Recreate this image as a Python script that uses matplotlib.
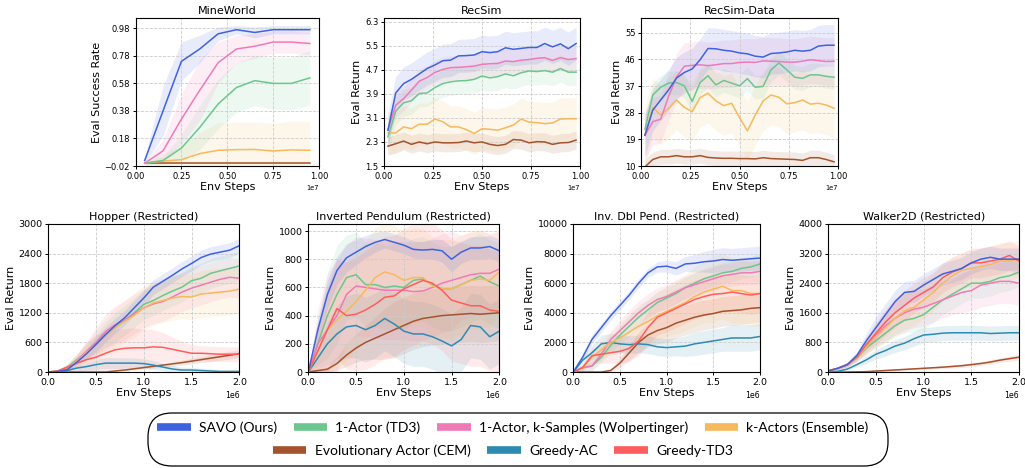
import numpy as np
import matplotlib
matplotlib.use("Agg")
import matplotlib.pyplot as plt
from matplotlib.lines import Line2D
from matplotlib.patches import FancyBboxPatch

names = ["SAVO (Ours)", "1-Actor (TD3)", "1-Actor, k-Samples (Wolpertinger)", "k-Actors (Ensemble)",
         "Evolutionary Actor (CEM)", "Greedy-AC", "Greedy-TD3"]
colors = ["#3f62e0", "#6cc68e", "#f07ab8", "#f6b95c", "#a5532c", "#2d8bb3", "#ff5d5d"]

# ---------------- MineWorld (steps in millions) ----------------
mw_steps = [0.5, 1.5, 2.5, 3.5, 4.5, 5.5, 6.5, 7.5, 8.5, 9.5]
mw_savo = [0.02, 0.38, 0.74, 0.83, 0.94, 0.97, 0.95, 0.97, 0.97, 0.97]
mw_wolp = [0.0, 0.09, 0.32, 0.53, 0.73, 0.83, 0.85, 0.88, 0.88, 0.87]
mw_td3 = [0.0, 0.02, 0.11, 0.26, 0.43, 0.55, 0.60, 0.58, 0.58, 0.62]
mw_ens = [0.0, 0.016, 0.026, 0.07, 0.094, 0.099, 0.10, 0.089, 0.097, 0.094]
mw_cem = [0.0, 0.0, 0.0, 0.0, 0.0, 0.0, 0.0, 0.0, 0.0, 0.0]
mw_savo_sd = [0.02, 0.18, 0.14, 0.10, 0.05, 0.03, 0.04, 0.03, 0.03, 0.03]
mw_wolp_sd = [0.01, 0.08, 0.18, 0.22, 0.15, 0.10, 0.09, 0.08, 0.08, 0.08]
mw_td3_sd = [0.01, 0.03, 0.10, 0.16, 0.18, 0.18, 0.18, 0.19, 0.19, 0.20]
mw_ens_sd = [0.01, 0.05, 0.10, 0.15, 0.20, 0.20, 0.20, 0.20, 0.21, 0.21]
mw_cem_sd = 0.004

# ---------------- RecSim ----------------
rs_steps = [0.2, 0.6, 1.0, 1.4, 1.8, 2.2, 2.6, 3.0, 3.4, 3.8, 4.2, 4.6, 5.0, 5.4, 5.8, 6.2, 6.6,
            7.0, 7.4, 7.8, 8.2, 8.6, 9.0, 9.4, 9.8]
rs_savo = [2.69, 3.93, 4.24, 4.38, 4.56, 4.74, 4.86, 5.0, 5.02, 5.16, 5.17, 5.19, 5.3, 5.27, 5.3,
           5.43, 5.38, 5.41, 5.44, 5.44, 5.57, 5.46, 5.56, 5.4, 5.57]
rs_wolp = [2.69, 3.52, 3.74, 4.02, 4.32, 4.44, 4.61, 4.71, 4.77, 4.78, 4.8, 4.82, 4.88, 4.9, 4.91,
           4.99, 4.97, 5.02, 5.04, 5.08, 5.1, 5.01, 5.1, 5.04, 5.07]
rs_td3 = [2.47, 3.32, 3.6, 3.67, 3.91, 3.93, 4.11, 4.24, 4.3, 4.33, 4.34, 4.38, 4.49, 4.43, 4.47,
          4.56, 4.5, 4.6, 4.66, 4.64, 4.67, 4.62, 4.74, 4.62, 4.62]
rs_ens = [2.6, 2.6, 2.8, 2.74, 2.89, 2.89, 3.06, 2.97, 2.8, 2.8, 2.71, 2.58, 2.74, 2.72, 2.69,
          2.77, 2.86, 3.06, 2.96, 2.94, 2.91, 2.93, 3.06, 3.07, 3.07]
rs_cem = [2.16, 2.24, 2.33, 2.22, 2.3, 2.24, 2.3, 2.27, 2.27, 2.28, 2.33, 2.27, 2.3, 2.22, 2.18,
          2.22, 2.38, 2.36, 2.27, 2.31, 2.3, 2.22, 2.27, 2.28, 2.36]
rs_sd = [0.55, 0.45, 0.4, 0.7, 0.3]

# ---------------- RecSim-Data ----------------
rd_savo = [20.4, 28.9, 32.3, 35.7, 39.7, 41.6, 42.8, 45.9, 49.7, 49.6, 49.1, 48.8, 48.2, 47.9, 47.1,
           46.8, 48.0, 48.2, 48.5, 49.1, 48.8, 49.1, 50.5, 50.8, 50.8]
rd_wolp = [20.4, 25.0, 25.8, 33.5, 40.0, 43.7, 44.0, 44.2, 43.9, 44.2, 44.6, 44.6, 45.0, 45.1, 45.0,
           45.5, 45.4, 45.3, 45.1, 45.1, 45.4, 45.9, 45.6, 45.3, 45.4]
rd_td3 = [22.4, 34.0, 36.6, 38.0, 38.2, 37.1, 31.8, 38.2, 40.5, 37.4, 38.9, 38.0, 37.1, 39.5, 36.6,
          36.9, 42.5, 44.8, 42.5, 40.0, 39.6, 40.8, 40.8, 40.3, 40.0]
rd_ens = [20.4, 29.8, 27.2, 29.5, 32.3, 29.8, 28.4, 33.1, 34.6, 32.0, 30.4, 31.2, 26.4, 21.9, 27.2,
          32.0, 34.0, 33.2, 31.0, 31.4, 32.3, 30.9, 31.2, 30.6, 29.5]
rd_cem = [9.7, 12.2, 13.1, 13.1, 13.5, 13.1, 13.1, 13.5, 12.9, 12.7, 12.6, 12.6, 12.5, 12.5, 12.4,
          12.8, 12.5, 12.4, 12.3, 12.2, 11.9, 12.8, 12.8, 12.2, 11.4]
rd_sd = [7.0, 4.0, 8.0, 10.0, 2.5]

# ---------------- MuJoCo (steps in millions) ----------------
mj_steps = [0.0, 0.1, 0.2, 0.3, 0.4, 0.5, 0.6, 0.7, 0.8, 0.9, 1.0, 1.1, 1.2, 1.3, 1.4, 1.5, 1.6,
            1.7, 1.8, 1.9, 2.0]

hop_savo = [0, 10, 50, 200, 370, 560, 760, 940, 1100, 1300, 1500, 1720, 1840, 1960, 2090, 2200,
            2320, 2390, 2430, 2470, 2560]
hop_td3 = [0, 20, 100, 250, 400, 580, 750, 900, 1050, 1200, 1370, 1450, 1550, 1640, 1720, 1850,
           1900, 2000, 2050, 2100, 2150]
hop_wolp = [0, 15, 80, 230, 420, 600, 820, 960, 1050, 1180, 1300, 1380, 1430, 1520, 1620, 1700,
            1760, 1820, 1880, 1920, 1900]
hop_ens = [0, 15, 80, 220, 400, 550, 730, 900, 1030, 1150, 1300, 1400, 1450, 1500, 1530, 1520,
           1580, 1600, 1620, 1640, 1680]
hop_cem = [0, 0, 0, 0, 0, 0, 0, 20, 40, 65, 90, 115, 140, 165, 190, 220, 250, 280, 310, 340, 370]
hop_gac = [0, 0, 30, 80, 110, 150, 180, 180, 180, 180, 170, 140, 100, 60, 40, 40, 30, 20, 10, 10, 10]
hop_gtd3 = [0, 20, 100, 180, 250, 300, 380, 450, 480, 490, 490, 510, 500, 460, 420, 380, 380, 370,
            360, 360, 360]
hop_sd = [
    [0, 10, 30, 60, 100, 150, 150, 150, 150, 150, 150, 150, 150, 150, 150, 150, 150, 150, 150, 150, 150],
    [0, 20, 50, 90, 150, 200, 250, 300, 300, 300, 300, 300, 300, 300, 300, 300, 300, 300, 300, 300, 300],
    [0, 20, 60, 120, 200, 300, 350, 380, 400, 400, 400, 400, 400, 400, 400, 400, 400, 400, 400, 400, 400],
    [0, 20, 60, 120, 200, 300, 350, 400, 420, 450, 450, 450, 450, 450, 450, 460, 470, 480, 480, 480, 480],
    [0, 0, 0, 0, 0, 0, 0, 10, 20, 30, 30, 40, 40, 50, 50, 60, 60, 70, 70, 80, 80],
    [0, 10, 30, 60, 80, 100, 110, 110, 110, 100, 100, 90, 80, 70, 60, 50, 50, 40, 40, 40, 40],
    [0, 20, 80, 200, 350, 450, 450, 420, 400, 400, 380, 350, 300, 250, 200, 180, 150, 150, 150, 150, 150],
]

ip_savo = [0, 300, 550, 720, 810, 850, 890, 920, 940, 920, 900, 870, 865, 870, 860, 800, 850, 880,
           880, 890, 860]
ip_td3 = [0, 200, 400, 550, 670, 690, 620, 620, 600, 610, 600, 650, 660, 620, 590, 590, 620, 650,
          680, 640, 610]
ip_wolp = [0, 200, 300, 400, 550, 610, 600, 590, 580, 580, 580, 570, 575, 600, 630, 650, 670, 690,
           700, 700, 730]
ip_ens = [0, 150, 300, 370, 430, 500, 580, 670, 710, 690, 650, 670, 670, 610, 590, 590, 620, 650,
          660, 650, 710]
ip_cem = [0, 10, 20, 60, 120, 170, 210, 240, 270, 300, 330, 360, 380, 390, 400, 405, 410, 415, 410,
          415, 420]
ip_gac = [0, 100, 200, 270, 320, 330, 300, 330, 380, 340, 290, 270, 270, 250, 220, 185, 230, 330,
          320, 250, 290]
ip_gtd3 = [0, 150, 300, 450, 400, 410, 440, 480, 530, 540, 590, 620, 650, 630, 580, 510, 490, 470,
           470, 440, 430]
ip_sd = [
    [0, 80, 100, 100, 100, 90, 80, 70, 60, 60, 60, 60, 60, 70, 80, 90, 80, 80, 80, 80, 80],
    [0, 150, 300, 350, 300, 300, 300, 300, 300, 300, 300, 300, 300, 300, 300, 300, 300, 300, 300, 300, 300],
    [0, 250, 400, 400, 350, 350, 350, 350, 350, 350, 350, 350, 350, 350, 350, 350, 300, 300, 300, 280, 270],
    [0, 150, 300, 350, 350, 350, 350, 350, 350, 350, 350, 350, 350, 350, 350, 350, 350, 350, 350, 330, 290],
    [0, 10, 20, 50, 80, 100, 120, 150, 180, 200, 200, 200, 200, 200, 200, 200, 200, 200, 200, 200, 200],
    [0, 80, 150, 200, 220, 230, 230, 230, 230, 230, 230, 230, 230, 230, 230, 230, 230, 230, 230, 230, 230],
    [0, 150, 300, 350, 380, 400, 420, 430, 430, 430, 430, 430, 430, 430, 430, 430, 430, 430, 430, 430, 430],
]

idp_savo = [0, 1000, 2200, 3000, 3800, 4500, 5200, 6000, 6700, 7100, 7150, 7000, 7300, 7350, 7450,
            7500, 7600, 7550, 7600, 7650, 7700]
idp_td3 = [0, 300, 400, 1000, 1800, 2500, 3100, 3700, 4200, 4700, 5000, 5300, 5700, 6000, 6300,
           6500, 6700, 6800, 7000, 7100, 7300]
idp_wolp = [0, 300, 400, 1200, 2200, 2800, 3400, 4000, 4500, 4900, 5100, 5400, 5700, 5900, 6100,
            6300, 6500, 6600, 6700, 6700, 6800]
idp_ens = [0, 300, 1000, 1500, 2000, 2300, 2700, 3100, 3400, 3800, 4100, 4400, 4700, 5100, 5400,
           5600, 5800, 5500, 5500, 5300, 5300]
idp_cem = [0, 0, 0, 0, 100, 600, 1300, 2000, 2500, 2800, 3000, 3300, 3500, 3700, 3850, 3950, 4100,
           4150, 4200, 4300, 4350]
idp_gac = [0, 800, 1300, 1900, 2000, 1900, 1850, 1900, 1850, 1700, 1650, 1700, 1750, 1900, 2000,
           2100, 2200, 2300, 2300, 2300, 2400]
idp_gtd3 = [0, 300, 1100, 1200, 1300, 1400, 1600, 2100, 3000, 3700, 4000, 4300, 4600, 4900, 5100,
            5250, 5300, 5400, 5300, 5200, 5300]
idp_sd = [
    [0, 200, 300, 300, 300, 300, 300, 300, 300, 350, 400, 450, 500, 600, 700, 800, 800, 800, 800, 800, 800],
    [0, 200, 300, 400, 500, 600, 700, 700, 700, 700, 700, 700, 700, 700, 700, 700, 700, 700, 700, 700, 700],
    [0, 200, 300, 400, 500, 700, 800, 800, 800, 800, 800, 800, 800, 800, 800, 800, 800, 800, 800, 800, 800],
    [0, 200, 400, 600, 800, 1000, 1200, 1400, 1500, 1600, 1700, 1800, 1900, 2000, 2100, 2200, 2200, 2200, 2200, 2200, 2200],
    [0, 0, 0, 0, 100, 300, 500, 700, 800, 900, 1000, 1000, 1000, 1000, 1000, 1000, 1000, 1000, 1000, 1000, 1000],
    [0, 300, 500, 600, 600, 600, 600, 600, 600, 600, 600, 600, 700, 800, 800, 800, 800, 900, 900, 900, 900],
    [0, 200, 500, 600, 700, 800, 900, 1000, 1100, 1200, 1300, 1300, 1300, 1300, 1300, 1300, 1300, 1300, 1300, 1300, 1300],
]

wk_savo = [30, 100, 200, 450, 850, 1200, 1550, 1900, 2150, 2180, 2350, 2500, 2650, 2720, 2800,
           2950, 3050, 3100, 3050, 3050, 3050]
wk_td3 = [30, 100, 200, 380, 650, 850, 1050, 1250, 1400, 1450, 1550, 1750, 1950, 2100, 2250, 2400,
          2400, 2450, 2550, 2600, 2700]
wk_wolp = [30, 100, 200, 400, 700, 1000, 1250, 1450, 1600, 1700, 1750, 1850, 1950, 2050, 2150,
           2200, 2350, 2400, 2450, 2450, 2400]
wk_ens = [30, 100, 200, 380, 680, 950, 1200, 1450, 1650, 1750, 1950, 2150, 2400, 2600, 2750, 2800,
          2850, 2900, 3000, 3000, 3050]
wk_cem = [0, 0, 0, 5, 10, 25, 40, 55, 70, 85, 100, 115, 130, 150, 170, 200, 230, 270, 320, 360, 400]
wk_gac = [0, 20, 80, 200, 330, 480, 580, 700, 780, 900, 1000, 1020, 1050, 1060, 1060, 1060, 1060,
          1040, 1050, 1060, 1060]
wk_gtd3 = [30, 100, 200, 400, 750, 1050, 1350, 1600, 1800, 2000, 2150, 2300, 2550, 2700, 2800,
           2950, 2950, 3000, 3050, 3150, 3000]
wk_sd = [
    [0, 30, 60, 100, 200, 300, 300, 300, 300, 300, 300, 300, 300, 300, 300, 300, 300, 300, 300, 300, 300],
    [0, 30, 60, 100, 150, 200, 250, 300, 350, 350, 400, 400, 400, 400, 400, 400, 400, 400, 400, 400, 400],
    [0, 30, 60, 100, 200, 300, 400, 450, 500, 500, 500, 500, 500, 500, 550, 550, 600, 600, 600, 600, 600],
    [0, 30, 60, 100, 200, 300, 400, 450, 500, 500, 500, 500, 500, 500, 500, 500, 500, 500, 500, 500, 500],
    [0, 0, 0, 0, 0, 10, 10, 20, 20, 30, 30, 30, 40, 40, 50, 50, 50, 60, 60, 70, 80],
    [0, 10, 30, 60, 100, 130, 150, 170, 180, 200, 200, 200, 200, 200, 200, 200, 200, 200, 200, 200, 200],
    [0, 30, 60, 100, 200, 300, 350, 400, 400, 400, 400, 400, 400, 400, 400, 400, 400, 400, 400, 400, 400],
]

W, H = 1025, 468
fig = plt.figure(figsize=(W / 100, H / 100), dpi=100)


def px_axes(x0, x1, y0, y1):
    return fig.add_axes([x0 / W, 1 - y1 / H, (x1 - x0) / W, (y1 - y0) / H])


def style(ax, title, ylabel, yticks, ylim, xticks, xlim, tick_fs):
    ax.set_title(title, fontsize=8, pad=3)
    ax.set_ylabel(ylabel, fontsize=8, labelpad=2)
    ax.set_xlabel("Env Steps", fontsize=8, labelpad=1)
    ax.set_yticks(yticks)
    ax.set_ylim(ylim)
    ax.set_xticks(xticks)
    ax.set_xlim(xlim)
    ax.tick_params(labelsize=tick_fs, length=2.5, width=0.7, pad=1.5)
    ax.xaxis.get_offset_text().set_fontsize(tick_fs - 1.2)
    ax.grid(True, linestyle="--", color="#cccccc", linewidth=0.6)
    for s in ax.spines.values():
        s.set_linewidth(0.8)


def curves(ax, x, series, bands, idx, scale):
    x = np.array(x) * scale
    for k in idx[::-1]:
        m = np.array(series[k], dtype=float)
        b = np.array(bands[k], dtype=float)
        ax.fill_between(x, m - b, m + b, color=colors[k], alpha=0.12, linewidth=0)
    for k in idx[::-1]:
        ax.plot(x, series[k], color=colors[k], linewidth=1.1)


# top row
ax = px_axes(135.5, 319, 18, 166)
curves(ax, mw_steps, {0: mw_savo, 1: mw_td3, 2: mw_wolp, 3: mw_ens, 4: mw_cem},
       {0: mw_savo_sd, 1: mw_td3_sd, 2: mw_wolp_sd, 3: mw_ens_sd, 4: mw_cem_sd}, [0, 2, 1, 3, 4], 1e6)
style(ax, "MineWorld", "Eval Success Rate", [-0.02, 0.18, 0.38, 0.58, 0.78, 0.98], (-0.02, 1.055),
      [0, 2.5e6, 5e6, 7.5e6, 1e7], (0, 1e7), 6)

ax = px_axes(384, 580, 18, 166)
curves(ax, rs_steps, {0: rs_savo, 1: rs_td3, 2: rs_wolp, 3: rs_ens, 4: rs_cem},
       dict(enumerate(rs_sd)), [0, 2, 1, 3, 4], 1e6)
style(ax, "RecSim", "Eval Return", [1.5, 2.3, 3.1, 3.9, 4.7, 5.5, 6.3], (1.5, 6.42),
      [0, 2.5e6, 5e6, 7.5e6, 1e7], (0, 1e7), 6)

ax = px_axes(641, 838, 18, 166)
curves(ax, rs_steps, {0: rd_savo, 1: rd_td3, 2: rd_wolp, 3: rd_ens, 4: rd_cem},
       dict(enumerate(rd_sd)), [0, 2, 1, 3, 4], 1e6)
style(ax, "RecSim-Data", "Eval Return", [10, 19, 28, 37, 46, 55], (10, 60),
      [0, 2.5e6, 5e6, 7.5e6, 1e7], (0, 1e7), 6)

# bottom row
bottom = [
    ((48.3, 239.3), "Hopper (Restricted)", [hop_savo, hop_td3, hop_wolp, hop_ens, hop_cem, hop_gac, hop_gtd3],
     hop_sd, [0, 600, 1200, 1800, 2400, 3000], (0, 3000)),
    ((308.3, 499.3), "Inverted Pendulum (Restricted)", [ip_savo, ip_td3, ip_wolp, ip_ens, ip_cem, ip_gac, ip_gtd3],
     ip_sd, [0, 200, 400, 600, 800, 1000], (0, 1050)),
    ((573.3, 760), "Inv. Dbl Pend. (Restricted)", [idp_savo, idp_td3, idp_wolp, idp_ens, idp_cem, idp_gac, idp_gtd3],
     idp_sd, [0, 2000, 4000, 6000, 8000, 10000], (0, 10000)),
    ((828.3, 1019), "Walker2D (Restricted)", [wk_savo, wk_td3, wk_wolp, wk_ens, wk_cem, wk_gac, wk_gtd3],
     wk_sd, [0, 800, 1600, 2400, 3200, 4000], (0, 4000)),
]
for (x0, x1), title, ser, sd, yt, yl in bottom:
    ax = px_axes(x0, x1, 224, 372)
    curves(ax, mj_steps, dict(enumerate(ser)), dict(enumerate(sd)), [0, 6, 3, 2, 1, 5, 4], 1e6)
    style(ax, title, "Eval Return", yt, yl, [0, 5e5, 1e6, 1.5e6, 2e6], (0, 2e6), 6.8)

# legend box
lax = fig.add_axes([0, 0, 1, 1], zorder=-1)
lax.set_xlim(0, W)
lax.set_ylim(H, 0)
lax.axis("off")
lax.add_patch(FancyBboxPatch((148, 413), 740, 53, boxstyle="round,pad=0,rounding_size=24",
                             facecolor="white", edgecolor="black", linewidth=0.9))

handles = [Line2D([], [], color=c, linewidth=5.5, solid_capstyle="butt") for c in colors]
leg_font = {"family": "Lato", "size": 10}
leg1 = fig.legend(handles[:4], names[:4], loc="center", bbox_to_anchor=(513 / W, 1 - 428 / H), ncol=4,
                  frameon=False, prop=leg_font, handlelength=2.4, handletextpad=0.6, columnspacing=1.2)
leg2 = fig.legend(handles[4:], names[4:], loc="center", bbox_to_anchor=(503 / W, 1 - 451 / H), ncol=3,
                  frameon=False, prop=leg_font, handlelength=2.4, handletextpad=0.6, columnspacing=1.2)

fig.savefig("out.png", dpi=100)
